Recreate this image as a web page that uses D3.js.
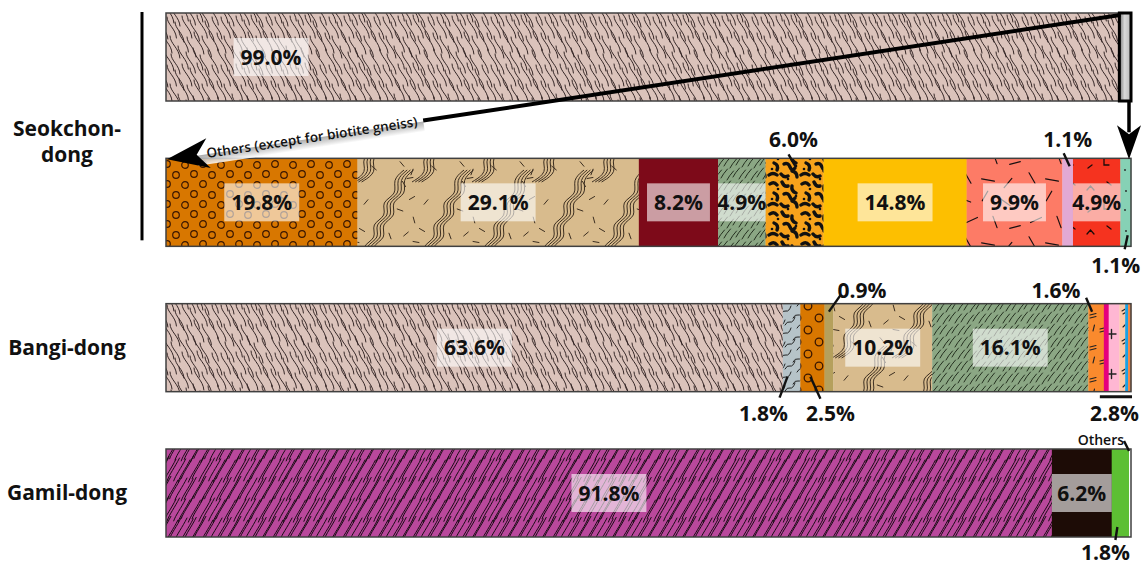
<!DOCTYPE html>
<html>
<head>
<meta charset="utf-8">
<script src="https://cdn.jsdelivr.net/npm/d3@7"></script>
<style>
  body { margin: 0; background: #fff; }
  svg { display: block; font-family: "Open Sans", "DejaVu Sans", sans-serif; }
</style>
</head>
<body>
<svg id="chart" width="1143" height="567"></svg>
<script>
// ---- data (percent of each site's rock units) ----
const rowIds = ["overview", "seokchon", "bangi", "gamil"];
const siteLabels = ["Seokchon-dong", "Bangi-dong", "Gamil-dong"];

const overviewUnits = ["Biotite gneiss", "Others (except for biotite gneiss)"];
const overviewValues = [99.0, 1.0];

const seokchonUnits = ["S1", "S2", "S3", "S4", "S5", "S6", "S7", "S8", "S9", "S10"];
const seokchonValues = [19.8, 29.1, 8.2, 4.9, 6.0, 14.8, 9.9, 1.1, 4.9, 1.1];

const bangiUnits = ["Biotite gneiss", "B2", "B3", "B4", "B5", "B6", "B7", "B8", "B9", "B10", "B11", "B12"];
const bangiValues = [63.6, 1.8, 2.5, 0.9, 10.2, 16.1, 1.6, 0.5, 1.1, 0.6, 0.3, 0.3];

const gamilUnits = ["G1", "G2", "G3", "Others"];
const gamilValues = [91.8, 6.2, 1.8, 0.2];

const arrowCaption = "Others (except for biotite gneiss)";
const othersCaption = "Others";

// ---- styling ----
const fmt = v => d3.format(".1f")(v) + "%";
const svg = d3.select("#chart");
const defs = svg.append("defs");

function tile(id, w, h, bg, draw) {
  const p = defs.append("pattern").attr("id", id)
    .attr("patternUnits", "userSpaceOnUse").attr("width", w).attr("height", h);
  p.append("rect").attr("width", w).attr("height", h).attr("fill", bg);
  for (const dx of [-w, 0, w]) for (const dy of [-h, 0, h]) {
    draw(p.append("g").attr("transform", `translate(${dx},${dy})`));
  }
}
const line = (g, d, color, width) => g.append("path").attr("d", d).attr("fill", "none")
  .attr("stroke", color).attr("stroke-width", width).attr("stroke-linecap", "round");

// biotite gneiss: hair-like strokes
const hairs = [[2,1,22],[9,6,20],[16,-2,23],[24,4,21],[31,0,22],[38,7,20],[46,2,23],
               [5,17,21],[13,22,20],[20,16,22],[28,20,21],[35,15,23],[43,21,20],[50,17,22],
               [1,33,20],[8,36,22],[17,31,21],[25,37,20],[32,32,22],[40,36,21],[47,31,20]];
tile("biotite", 54, 48, "#dbc3bb", g => {
  hairs.forEach(([x, y, l]) => line(g, `M${x},${y}c0,${l*0.35} ${l*0.42},${l*0.55} ${l*0.45},${l}`, "#2a1c1c", 0.95));
});

// dense purple hatch
const jit = [0, 1.2, -0.8, 0.6, -1.1, 0.9, -0.4, 1.4];
tile("purpleHatch", 35, 40, "#b9489c", g => {
  for (let r = 0; r < 2; r++) for (let i = 0; i < 7; i++) {
    const x = i * 5 + r * 2.5 + jit[(i + r * 3) % 8];
    const y = 20 * (r + 1) + jit[(i * 3 + r) % 8] * 1.5;
    line(g, `M${x},${y}c2,-6 7,-12 12,-22`, "#170a12", 1);
  }
});

// sage hatch
tile("sageHatch", 24, 24, "#8ba784", g => {
  [[1,10],[7,12],[13,9],[19,11],[4,22],[10,24],[16,21],[22,23]].forEach(([x, y]) =>
    line(g, `M${x},${y}q2,-4 6.5,-9`, "#24301f", 1));
});

// open circles on orange
tile("circles", 36, 20, "#d87700", g => {
  [[5,5],[23,4],[14,14],[32,15]].forEach(([x, y]) =>
    g.append("circle").attr("cx", x).attr("cy", y).attr("r", 3.3)
      .attr("fill", "none").attr("stroke", "#3a1600").attr("stroke-width", 1.2));
});
tile("circlesLarge", 22, 24, "#d87700", g => {
  [[5,6],[16,18]].forEach(([x, y]) =>
    g.append("circle").attr("cx", x).attr("cy", y).attr("r", 3.8)
      .attr("fill", "none").attr("stroke", "#3a1600").attr("stroke-width", 1.3));
});

// tan with bundles of wavy lines and short dashes
const wave = d3.line().curve(d3.curveBasis);
const wavePts = [[-8,94],[8,84],[0,70],[18,62],[10,48],[28,40],[20,26],[38,18],[32,4],[44,-6]];
const tanDashes = [[44,8,60],[52,22,-30],[40,34,20],[54,44,75],[46,58,-40],[56,66,10],[42,76,50],
                   [52,84,-70],[6,26,-50],[2,54,30],[14,80,40],[30,60,70],[50,2,-10]];
tile("wavyTan", 60, 88, "#d8bb8d", g => {
  for (let k = 0; k < 4; k++) {
    g.append("path").attr("d", wave(wavePts.map(([x, y]) => [x + k * 3.2, y])))
      .attr("fill", "none").attr("stroke", "#3b2d1f").attr("stroke-width", 1);
  }
  tanDashes.forEach(([x, y, a]) => {
    const r = a * Math.PI / 180, dx = 3 * Math.cos(r), dy = 3 * Math.sin(r);
    line(g, `M${x-dx},${y-dy}L${x+dx},${y+dy}`, "#3b2d1f", 1);
  });
});

// leopard spots
tile("leopard", 32, 30, "#f7a21b", g => {
  ["M2,4q4,-3 7,1", "M14,2q2,5 6,4", "M24,6q-1,5 4,7", "M6,13q5,2 3,7", "M16,14q4,-2 6,3t5,1",
   "M1,25q4,-3 8,0", "M13,24q3,4 7,2", "M24,21q5,1 5,6"].forEach(d => line(g, d, "#111", 3.4));
  [[10,9],[28,16],[20,29],[4,19]].forEach(([x, y]) =>
    g.append("circle").attr("cx", x).attr("cy", y).attr("r", 1.3).attr("fill", "#111"));
});

// salmon with scattered dashes
const salmonDashes = [[5,8,20,12],[25,4,-60,11],[45,10,35,13],[12,28,-25,12],[35,30,70,12],
                      [55,35,-15,11],[8,50,60,12],[28,52,10,13],[48,55,-50,12]];
tile("salmonDash", 64, 64, "#fd7b66", g => {
  salmonDashes.forEach(([x, y, a, l]) => {
    const r = a * Math.PI / 180, dx = l / 2 * Math.cos(r), dy = l / 2 * Math.sin(r);
    line(g, `M${x-dx},${y-dy}L${x+dx},${y+dy}`, "#1a1010", 1.2);
  });
});

// red with small carets and corners
tile("redMarks", 36, 44, "#f5331f", g => {
  line(g, "M7,14l3.5,-4l3.5,4", "#1a0a08", 1.3);
  line(g, "M24,27l0,6l5,0", "#1a0a08", 1.3);
  line(g, "M27,6l4,3", "#1a0a08", 1.3);
  line(g, "M8,36l4,-3", "#1a0a08", 1.3);
});

// mint with dots
tile("mintDots", 10, 40, "#86d1b5", g => {
  g.append("circle").attr("cx", 5).attr("cy", 10).attr("r", 0.9).attr("fill", "#222");
  g.append("circle").attr("cx", 6).attr("cy", 31).attr("r", 0.9).attr("fill", "#222");
});

// blue-grey with short waves
tile("blueWave", 22, 22, "#b6c3c8", g => {
  [[1,10],[11,6],[5,20],[15,17]].forEach(([x, y]) => line(g, `M${x},${y}q2,-4 5,-3t5,-5`, "#222", 1));
});

// orange / peach with double dashes, pink with crosses
tile("orangeEq", 18, 32, "#fa8a2d", g => {
  line(g, "M2,9l6,-1.5M2,12l6,-1.5", "#222", 1.1);
  line(g, "M10,27l6,-1.5M10,30l6,-1.5", "#222", 1.1);
  line(g, "M13,11l1.5,-6", "#222", 1.1);
});
tile("peachEq", 10, 30, "#fcc9a9", g => {
  line(g, "M2,11l5,-3M3,14l5,-3", "#222", 1.1);
  line(g, "M3,27l4,-4", "#222", 1.1);
});
tile("pinkPlus", 16, 40, "#ffb7d3", g => {
  line(g, "M3,14h9M7.5,9.5v9", "#222", 1.4);
});

// grey "others" box and caption shading
const gg = defs.append("linearGradient").attr("id", "greyBox").attr("x1", 0).attr("x2", 1).attr("y1", 0).attr("y2", 0);
gg.append("stop").attr("offset", 0).attr("stop-color", "#777");
gg.append("stop").attr("offset", 0.45).attr("stop-color", "#d9d9d9");
gg.append("stop").attr("offset", 1).attr("stop-color", "#b8b8b8");
const cs = defs.append("linearGradient").attr("id", "captionShade").attr("x1", 0).attr("x2", 0).attr("y1", 0).attr("y2", 1);
cs.append("stop").attr("offset", 0).attr("stop-color", "#9c9c9c");
cs.append("stop").attr("offset", 1).attr("stop-color", "#ffffff");

const rows = [
  { id: "overview", units: overviewUnits, values: overviewValues,
    fills: ["url(#biotite)", "url(#greyBox)"] },
  { id: "seokchon", units: seokchonUnits, values: seokchonValues,
    fills: ["url(#circles)", "url(#wavyTan)", "#7d0a19", "url(#sageHatch)", "url(#leopard)",
            "#fdbf00", "url(#salmonDash)", "#e2a9d4", "url(#redMarks)", "url(#mintDots)"] },
  { id: "bangi", units: bangiUnits, values: bangiValues,
    fills: ["url(#biotite)", "url(#blueWave)", "url(#circlesLarge)", "#b5a05c", "url(#wavyTan)",
            "url(#sageHatch)", "url(#orangeEq)", "#e5007d", "url(#pinkPlus)", "url(#peachEq)",
            "#1ba1e2", "#f3843e"] },
  { id: "gamil", units: gamilUnits, values: gamilValues,
    fills: ["url(#purpleHatch)", "#1d0c06", "#5dbf33", "#ffffff"] }
];

// which segments carry their value inside the bar (and where along the segment)
const insideLabels = {
  overview: [[0, 0.11]],
  seokchon: [[0, 0.5], [1, 0.5], [2, 0.5], [3, 0.5], [5, 0.5], [6, 0.5], [8, 0.5]],
  bangi: [[0, 0.5], [4, 0.5], [5, 0.5]],
  gamil: [[0, 0.5], [1, 0.5]]
};
// callouts: text offset from segment centre, leader line ends relative to bar edge
const callouts = {
  seokchon: [
    { i: 4, side: "top", tdx: -1, base: -11, l: [-6, -4, 1, 8] },
    { i: 7, side: "top", tdx: 0, base: -11, l: [-4, -5, 2, 8] },
    { i: 9, side: "bottom", tdx: -10, base: 27, l: [2, -11, -1, 3] }
  ],
  bangi: [
    { i: 1, side: "bottom", tdx: -28, base: 29, l: [-4, -15, -12, 6] },
    { i: 2, side: "bottom", tdx: 18, base: 29, l: [-2, -15, 8, 7] },
    { i: 3, side: "top", tdx: 33, base: -6, l: [0, 8, 12, -9] },
    { i: 6, side: "top", tdx: -40, base: -6, l: [-4, 8, -10, -6] }
  ],
  gamil: [
    { i: 2, side: "bottom", tdx: -15, base: 23, l: [-3, -10, -5, 3] },
    { i: 3, side: "top", tdx: -6, base: -4, l: [-6, -8, -1, 2], text: othersCaption, small: true }
  ]
};
const groupedRanges = { bangi: [7, 11] };

const xRange = [166, 1131];
const y = d3.scaleBand().domain(rowIds).range([13, 537]).paddingInner(0.3945).paddingOuter(0);
const bh = y.bandwidth();

const barLayer = svg.append("g");
const labelLayer = svg.append("g");
const annoLayer = svg.append("g");

rows.forEach(row => {
  const x = d3.scaleLinear().domain([0, d3.sum(row.values)]).range(xRange);
  const ends = Array.from(d3.cumsum(row.values));
  const segs = row.values.map((v, i) => ({
    unit: row.units[i], value: v, x0: x(i ? ends[i - 1] : 0), x1: x(ends[i]), fill: row.fills[i]
  }));
  row.segs = segs;
  const yT = y(row.id), yB = yT + bh;
  const g = barLayer.append("g");
  g.selectAll("rect").data(segs).join("rect")
    .attr("x", d => d.x0).attr("y", yT)
    .attr("width", d => d.x1 - d.x0 + 0.3).attr("height", bh)
    .attr("fill", d => d.fill);
  g.append("rect").attr("x", xRange[0]).attr("y", yT)
    .attr("width", xRange[1] - xRange[0]).attr("height", bh)
    .attr("fill", "none").attr("stroke", "#404040").attr("stroke-width", 1.5);

  // inside value labels
  (insideLabels[row.id] || []).forEach(([i, frac]) => {
    const s = segs[i];
    const cx = s.x0 + (s.x1 - s.x0) * frac;
    const lg = labelLayer.append("g");
    const box = lg.append("rect");
    const t = lg.append("text").attr("x", cx).attr("y", yT + bh / 2).attr("dy", "0.36em")
      .attr("text-anchor", "middle").attr("font-size", 21).attr("font-weight", 700)
      .attr("fill", "#111").text(fmt(s.value));
    const tw = t.node().getComputedTextLength();
    const bw = Math.min(tw + 14, s.x1 - s.x0);
    box.attr("x", cx - bw / 2).attr("y", yT + bh / 2 - 19).attr("width", bw).attr("height", 38)
      .attr("fill", "#fff").attr("fill-opacity", 0.6);
  });

  // callouts with leader lines
  (callouts[row.id] || []).forEach(c => {
    const s = segs[c.i];
    const cx = (s.x0 + s.x1) / 2;
    const edge = c.side === "top" ? yT : yB;
    annoLayer.append("line")
      .attr("x1", cx + c.l[0]).attr("y1", edge + c.l[1])
      .attr("x2", cx + c.l[2]).attr("y2", edge + c.l[3])
      .attr("stroke", "#111").attr("stroke-width", 2.4);
    annoLayer.append("text")
      .attr("x", cx + c.tdx).attr("y", edge + c.base)
      .attr("text-anchor", c.small ? "end" : "middle")
      .attr("font-size", c.small ? 14 : 21).attr("font-weight", c.small ? 600 : 700)
      .attr("fill", "#111").text(c.text || fmt(s.value));
  });

  // bracketed group of thin units
  if (groupedRanges[row.id]) {
    const [a, b] = groupedRanges[row.id];
    const gx0 = segs[a].x0, gx1 = segs[b].x1;
    const total = d3.sum(row.values.slice(a, b + 1));
    annoLayer.append("line").attr("x1", gx0 - 4).attr("x2", gx1 + 1)
      .attr("y1", yB + 5).attr("y2", yB + 5).attr("stroke", "#111").attr("stroke-width", 3);
    annoLayer.append("text").attr("x", (gx0 + gx1) / 2 - 3).attr("y", yB + 29)
      .attr("text-anchor", "middle").attr("font-size", 21).attr("font-weight", 700)
      .attr("fill", "#111").text(fmt(total));
  }
});

// the "others" slice of the overview bar, boxed
const ov = rows[0].segs[1];
const yOv = y("overview");
annoLayer.append("rect").attr("x", ov.x0 - 2).attr("y", yOv)
  .attr("width", ov.x1 - ov.x0 + 2).attr("height", bh)
  .attr("fill", "url(#greyBox)").attr("stroke", "#000").attr("stroke-width", 3);

// arrowheads
function arrowHead(tx, ty, angleDeg, len, half, notch) {
  annoLayer.append("path")
    .attr("d", `M0,0L${-len},${-half}L${-len + notch},0L${-len},${half}Z`)
    .attr("transform", `translate(${tx},${ty}) rotate(${angleDeg})`)
    .attr("fill", "#000");
}

// long arrow: overview "others" expanded into the Seokchon-dong bar
const ySk = y("seokchon");
const S = [ov.x0 - 1, yOv + 2];
const T = [xRange[0] + 1, ySk + 1];
const ang = Math.atan2(T[1] - S[1], T[0] - S[0]) * 180 / Math.PI;
const L = Math.hypot(S[0] - T[0], S[1] - T[1]);
const cap = annoLayer.append("g").attr("transform", `translate(${T[0]},${T[1]}) rotate(${ang - 180})`);
const capShade = cap.append("rect");
const capText = cap.append("text").attr("x", 40).attr("y", 0).attr("dy", "0.35em")
  .attr("font-size", 13.5).attr("font-weight", 600).attr("fill", "#111").text(arrowCaption);
const capLen = capText.node().getComputedTextLength();
capShade.attr("x", 30).attr("y", 1).attr("width", capLen + 16).attr("height", 10)
  .attr("fill", "url(#captionShade)").attr("opacity", 0.85);
capText.raise();
cap.append("line").attr("x1", 40 + capLen + 6).attr("x2", L).attr("y1", 0).attr("y2", 0)
  .attr("stroke", "#000").attr("stroke-width", 4);
arrowHead(T[0], T[1], ang, 42, 15, 12);

// short arrow straight down to the end of the Seokchon-dong bar
const dx = ov.x1 - 2;
annoLayer.append("line").attr("x1", dx).attr("x2", dx)
  .attr("y1", yOv + bh).attr("y2", ySk - 26)
  .attr("stroke", "#000").attr("stroke-width", 3.5);
arrowHead(dx, ySk + 1, 90, 34, 12, 9);

// site labels
const siteG = svg.append("g").attr("font-size", 21).attr("font-weight", 700)
  .attr("text-anchor", "middle").attr("fill", "#111");
const [sk1, sk2] = siteLabels[0].split("-");
siteG.append("text").attr("x", 67).attr("y", ySk - 22).text(sk1 + "-");
siteG.append("text").attr("x", 67).attr("y", ySk + 4).text(sk2);
siteG.append("text").attr("x", 67).attr("y", y("bangi") + bh / 2 + 7).text(siteLabels[1]);
siteG.append("text").attr("x", 67).attr("y", y("gamil") + bh / 2 + 7).text(siteLabels[2]);
svg.append("line").attr("x1", 142).attr("x2", 142)
  .attr("y1", yOv - 1).attr("y2", ySk + bh - 6)
  .attr("stroke", "#000").attr("stroke-width", 3);
</script>
</body>
</html>
